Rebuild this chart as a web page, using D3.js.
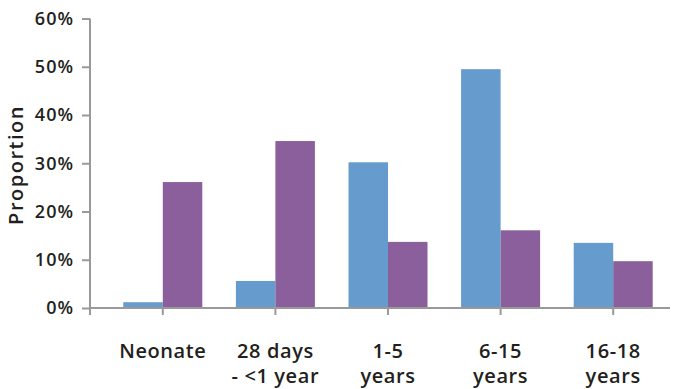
<!DOCTYPE html>
<html><head><meta charset="utf-8">
<script src="https://cdn.jsdelivr.net/npm/d3@7"></script>
<style>body{margin:0;background:#fff}svg{display:block}text{font-family:"Open Sans",Lato,sans-serif;font-weight:600;fill:#231f20}</style>
</head><body>
<script>
const categories = [["Neonate"], ["28 days", "- <1 year"], ["1-5", "years"], ["6-15", "years"], ["16-18", "years"]];
const seriesA = [1.2, 5.6, 30.2, 49.5, 13.5];
const seriesB = [26.1, 34.6, 13.7, 16.1, 9.7];
const yTicks = [0, 10, 20, 30, 40, 50, 60];
const colors = ["#669bcd", "#8b5e9c"];

const W = 682, H = 389;
const svg = d3.select("body").append("svg").attr("width", W).attr("height", H);
const keys = categories.map(c => c.join(" "));
const x = d3.scaleBand().domain(keys).range([106.5, 669.5]).paddingInner(0).paddingOuter(0);
const y = d3.scaleLinear().domain([0, 60]).range([308, 18.5]);
const barW = 39.5;

const data = keys.map((k, i) => ({k, vals: [seriesA[i], seriesB[i]]}));
const g = svg.append("g");
data.forEach(d => {
  d.vals.forEach((v, j) => {
    const cx = x(d.k) + x.bandwidth() / 2;
    g.append("rect")
      .attr("x", j === 0 ? cx - barW : cx)
      .attr("width", barW)
      .attr("y", y(v))
      .attr("height", y(0) - y(v))
      .attr("fill", colors[j]);
  });
});

const axisColor = "#999";
// y axis
const ya = svg.append("g").attr("transform", "translate(90,0)")
  .call(d3.axisLeft(y).tickValues(yTicks).tickFormat(d => d + "%").tickSize(8).tickPadding(9));
ya.select(".domain").attr("stroke", axisColor).attr("stroke-width", 2).attr("d", `M0,${y(60)}V${y(0)+7}`);
ya.selectAll(".tick line").attr("stroke", axisColor).attr("stroke-width", 2);
ya.selectAll(".tick text").style("font-size", "18px").style("letter-spacing", "1px").attr("dx", "1px")
  .style("font-family", '"Open Sans",sans-serif').style("font-weight", 600).attr("fill", "#231f20");

// x axis
const xa = svg.append("g").attr("transform", `translate(0,${y(0)})`)
  .call(d3.axisBottom(x).tickSize(7).tickFormat(""));
xa.select(".domain").attr("stroke", axisColor).attr("stroke-width", 2).attr("d", "M90,0H670");
xa.selectAll(".tick line").attr("stroke", axisColor).attr("stroke-width", 2);

categories.forEach((c, i) => {
  const t = svg.append("text").attr("x", x(keys[i]) + x.bandwidth() / 2).attr("y", 358)
    .attr("text-anchor", "middle").style("font-size", "20px").style("letter-spacing", "0.6px");
  c.forEach((line, li) => t.append("tspan").attr("x", x(keys[i]) + x.bandwidth() / 2).attr("dy", li === 0 ? 0 : 25).text(line));
});

svg.append("text").attr("transform", "translate(23,165) rotate(-90)")
  .attr("text-anchor", "middle").style("font-size", "20px").style("letter-spacing", "1.5px").text("Proportion");
</script>
</body></html>
